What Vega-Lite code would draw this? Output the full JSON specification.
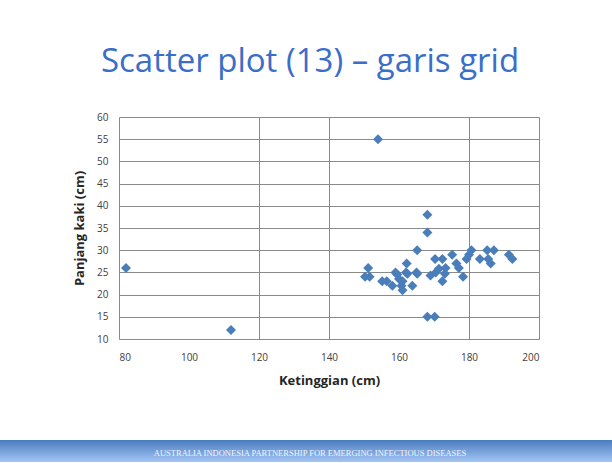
{
  "$schema": "https://vega.github.io/schema/vega-lite/v6.json",
  "background": "white",
  "padding": {"left": 0, "right": 0, "top": 46, "bottom": 0},
  "config": {"view": {"stroke": null}, "font": "Open Sans"},
  "title": {
    "text": "Scatter plot (13) – garis grid",
    "anchor": "middle",
    "font": "Open Sans",
    "fontSize": 33,
    "fontWeight": "normal",
    "color": "#3A6EC8",
    "baseline": "alphabetic",
    "offset": 7,
    "dx": 4
  },
  "spacing": 53,
  "vconcat": [
    {
      "spacing": 20,
      "hconcat": [
        {
          "width": 53,
          "height": 222,
          "data": {"values": [{"a": 1}]},
          "mark": {"type": "point", "opacity": 0},
          "encoding": {}
        },
        {
          "width": 420,
          "height": 222,
          "data": {
            "values": [
              {"ketinggian": 82, "panjang": 26},
              {"ketinggian": 112, "panjang": 12},
              {"ketinggian": 154, "panjang": 55},
              {"ketinggian": 150.3, "panjang": 24},
              {"ketinggian": 151.6, "panjang": 24},
              {"ketinggian": 151.2, "panjang": 26},
              {"ketinggian": 155.2, "panjang": 23},
              {"ketinggian": 156.5, "panjang": 23},
              {"ketinggian": 158.1, "panjang": 22},
              {"ketinggian": 159.5, "panjang": 24.5},
              {"ketinggian": 159, "panjang": 25},
              {"ketinggian": 160, "panjang": 23.5},
              {"ketinggian": 160.7, "panjang": 22},
              {"ketinggian": 161, "panjang": 21},
              {"ketinggian": 161, "panjang": 23},
              {"ketinggian": 162.2, "panjang": 27},
              {"ketinggian": 162.4, "panjang": 24.7},
              {"ketinggian": 162, "panjang": 25},
              {"ketinggian": 163.8, "panjang": 22},
              {"ketinggian": 165.2, "panjang": 24.7},
              {"ketinggian": 165, "panjang": 25},
              {"ketinggian": 165.2, "panjang": 30},
              {"ketinggian": 168.1, "panjang": 38},
              {"ketinggian": 168.1, "panjang": 34},
              {"ketinggian": 168.1, "panjang": 15},
              {"ketinggian": 170.2, "panjang": 15},
              {"ketinggian": 169, "panjang": 24.3},
              {"ketinggian": 170.3, "panjang": 28},
              {"ketinggian": 172.4, "panjang": 28},
              {"ketinggian": 170.5, "panjang": 25},
              {"ketinggian": 171.4, "panjang": 25.8},
              {"ketinggian": 172.4, "panjang": 23},
              {"ketinggian": 173.1, "panjang": 24.7},
              {"ketinggian": 173.3, "panjang": 26},
              {"ketinggian": 175.2, "panjang": 29},
              {"ketinggian": 176.4, "panjang": 27},
              {"ketinggian": 177.1, "panjang": 26},
              {"ketinggian": 178.3, "panjang": 24},
              {"ketinggian": 179.3, "panjang": 28},
              {"ketinggian": 180, "panjang": 29},
              {"ketinggian": 180.7, "panjang": 30},
              {"ketinggian": 183.1, "panjang": 28},
              {"ketinggian": 185.2, "panjang": 30},
              {"ketinggian": 185.5, "panjang": 28},
              {"ketinggian": 186.2, "panjang": 27},
              {"ketinggian": 187.1, "panjang": 30},
              {"ketinggian": 191.4, "panjang": 29},
              {"ketinggian": 192.4, "panjang": 28}
            ]
          },
          "mark": {"type": "point", "shape": "diamond", "filled": true, "size": 100, "color": "#4A7EBB", "opacity": 1},
          "encoding": {
            "x": {
              "field": "ketinggian",
              "type": "quantitative",
              "scale": {"domain": [80, 200], "nice": false, "zero": false},
              "axis": {
                "values": [80, 100, 120, 140, 160, 180, 200],
                "grid": true,
                "gridColor": {"condition": {"test": "datum.value == 100 || datum.value == 160", "value": "transparent"}, "value": "#8A8A8A"},
                "domain": false,
                "ticks": false,
                "tickSize": 0,
                "labelPadding": 13,
                "labelFont": "Open Sans",
                "labelFontSize": 10,
                "labelColor": "#404040",
                "title": "Ketinggian (cm)",
                "titleFont": "Open Sans",
                "titleFontSize": 13,
                "titleFontWeight": "bold",
                "titleColor": "#262626",
                "titlePadding": 12
              }
            },
            "y": {
              "field": "panjang",
              "type": "quantitative",
              "scale": {"domain": [10, 60], "nice": false, "zero": false},
              "axis": {
                "values": [10, 15, 20, 25, 30, 35, 40, 45, 50, 55, 60],
                "grid": true,
                "gridColor": "#8A8A8A",
                "domain": false,
                "ticks": false,
                "tickSize": 0,
                "labelPadding": 11,
                "labelFont": "Open Sans",
                "labelFontSize": 10,
                "labelColor": "#404040",
                "title": "Panjang kaki (cm)",
                "titleFont": "Open Sans",
                "titleFontSize": 13,
                "titleFontWeight": "bold",
                "titleColor": "#262626",
                "titlePadding": 10
              }
            }
          }
        }
      ]
    },
    {
      "width": 612,
      "height": 22,
      "data": {"values": [{"label": "AUSTRALIA INDONESIA PARTNERSHIP FOR EMERGING INFECTIOUS DISEASES"}]},
      "layer": [
        {
          "mark": {
            "type": "rect",
            "color": {
              "gradient": "linear",
              "x1": 0, "y1": 0, "x2": 0, "y2": 1,
              "stops": [
                {"offset": 0, "color": "#4B7CC0"},
                {"offset": 1, "color": "#A4C5F4"}
              ]
            }
          },
          "encoding": {}
        },
        {
          "mark": {"type": "text", "font": "Liberation Serif", "fontSize": 8.5, "color": "#F2F6FC", "dx": 4, "dy": 2},
          "encoding": {"text": {"field": "label"}}
        }
      ]
    }
  ]
}
